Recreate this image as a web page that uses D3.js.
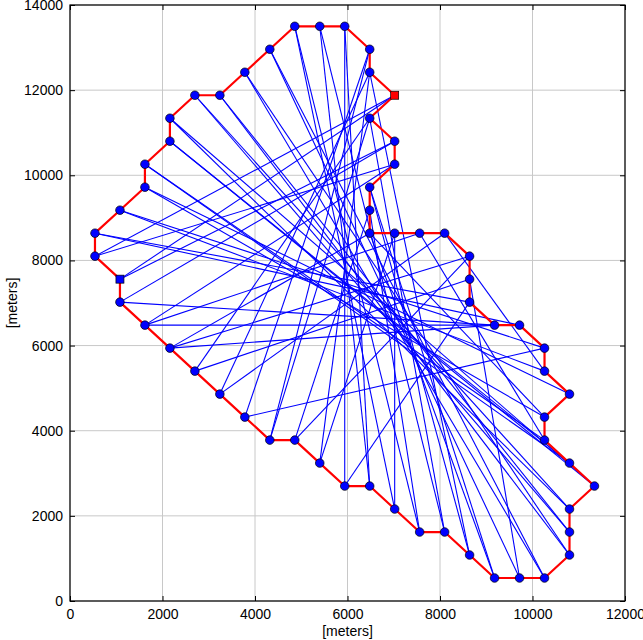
<!DOCTYPE html>
<html><head><meta charset="utf-8">
<script src="https://cdn.jsdelivr.net/npm/d3@7"></script>
<style>body{margin:0;background:#fff}svg{display:block}text{font-family:"Liberation Sans",Arial,sans-serif;fill:#000}</style>
</head><body><svg id="c" width="643" height="640"></svg>
<script>
// boundary vertices (meters)
const boundaryX = [4860,5400,5940,6480,6480,7020,6480,7020,7020,6480,6480,6480,7020,7560,8100,8640,8640,8640,9180,9720,10260,10260,10800,10260,10260,10800,11340,10800,10800,10800,10260,9720,9180,8640,8100,7560,7020,6480,5940,5400,4860,4320,3780,3240,2700,2160,1620,1080,1080,540,540,1080,1620,1620,2160,2160,2700,3240,3780,4320];
const boundaryY = [13500,13500,13500,12960,12420,11880,11340,10800,10260,9720,9180,8640,8640,8640,8640,8100,7560,7020,6480,6480,5940,5400,4860,4320,3780,3240,2700,2160,1620,1080,540,540,540,1080,1620,1620,2160,2700,2700,3240,3780,3780,4320,4860,5400,5940,6480,7020,7560,8100,8640,9180,9720,10260,10800,11340,11880,11880,12420,12960];
// blue chords between boundary vertices: vertex numbers (1-based)
const chordFrom = [1,1,2,2,3,3,60,60,59,59,58,58,57,57,56,56,55,55,54,54,53,53,52,52,51,51,50,50,49,49,48,48,47,47,47,46,46,46,45,45,44,44,43,43,42,42,41,41,40,40,7,32,33,34,10,10,11,12,13,14,15,18];
const chordTo   = [37,36,38,35,39,38,32,31,31,30,30,29,29,28,28,27,27,26,26,25,24,23,22,21,20,18,6,9,6,8,19,8,14,20,9,12,16,19,7,17,5,15,4,21,4,7,16,11,5,13,35,17,12,5,33,34,36,24,37,25,22,39];
const startVertex = 6, endVertex = 49;
const xTicks = [0,2000,4000,6000,8000,10000,12000];
const yTicks = [0,2000,4000,6000,8000,10000,12000,14000];
const xLabel = "[meters]", yLabel = "[meters]";

const L=70,R=625,T=5,B=601;
const svg=d3.select("#c");
const x=d3.scaleLinear().domain([0,12000]).range([L,R]);
const y=d3.scaleLinear().domain([0,14000]).range([B,T]);

// grid
const g=svg.append("g");
g.selectAll("line.gx").data(xTicks).join("line").attr("x1",d=>x(d)).attr("x2",d=>x(d)).attr("y1",T).attr("y2",B).attr("stroke","#c8c8c8").attr("stroke-width",1);
g.selectAll("line.gy").data(yTicks).join("line").attr("y1",d=>y(d)).attr("y2",d=>y(d)).attr("x1",L).attr("x2",R).attr("stroke","#c8c8c8").attr("stroke-width",1);

// chords
const pts=boundaryX.map((v,i)=>[v,boundaryY[i]]);
svg.append("g").selectAll("line").data(chordFrom.map((f,i)=>[f-1,chordTo[i]-1])).join("line")
 .attr("x1",d=>x(pts[d[0]][0])).attr("y1",d=>y(pts[d[0]][1]))
 .attr("x2",d=>x(pts[d[1]][0])).attr("y2",d=>y(pts[d[1]][1]))
 .attr("stroke","#0000ff").attr("stroke-width",1.1);

// boundary
svg.append("path").datum(pts.concat([pts[0]])).attr("d",d3.line().x(d=>x(d[0])).y(d=>y(d[1])))
 .attr("fill","none").attr("stroke","#ff0000").attr("stroke-width",2.2).attr("stroke-linejoin","round");

// markers
svg.append("g").selectAll("circle").data(pts.filter((p,i)=>i!==startVertex-1&&i!==endVertex-1)).join("circle")
 .attr("cx",d=>x(d[0])).attr("cy",d=>y(d[1])).attr("r",4.3).attr("fill","#0000ff").attr("stroke","#000").attr("stroke-width",0.7);
[[startVertex,"#ff0000"],[endVertex,"#0000ff"]].forEach(([v,c])=>{
 const p=pts[v-1];
 svg.append("rect").attr("x",x(p[0])-4).attr("y",y(p[1])-4).attr("width",8).attr("height",8).attr("fill",c).attr("stroke","#000").attr("stroke-width",0.7);
});

// axes frame & ticks
const ax=d3.axisBottom(x).tickValues(xTicks).tickFormat(d3.format("d")).tickSizeInner(-5).tickSizeOuter(0).tickPadding(8);
const ay=d3.axisLeft(y).tickValues(yTicks).tickFormat(d3.format("d")).tickSizeInner(-5).tickSizeOuter(0).tickPadding(7);
const gx=svg.append("g").attr("transform",`translate(0,${B})`).call(ax);
const gy=svg.append("g").attr("transform",`translate(${L},0)`).call(ay);
const gx2=svg.append("g").attr("transform",`translate(0,${T})`).call(d3.axisTop(x).tickValues(xTicks).tickFormat("").tickSizeInner(-5).tickSizeOuter(0));
const gy2=svg.append("g").attr("transform",`translate(${R},0)`).call(d3.axisRight(y).tickValues(yTicks).tickFormat("").tickSizeInner(-5).tickSizeOuter(0));
[gx,gy,gx2,gy2].forEach(a=>{a.select(".domain").remove();a.selectAll(".tick line").attr("stroke","#000");a.selectAll("text").style("font-size","14px").style("font-family","'Liberation Sans',Arial,sans-serif");});
svg.append("rect").attr("x",L).attr("y",T).attr("width",R-L).attr("height",B-T).attr("fill","none").attr("stroke","#000").attr("stroke-width",1.2);

svg.append("text").attr("x",(L+R)/2).attr("y",636).attr("text-anchor","middle").style("font-size","14px").text(xLabel);
svg.append("text").attr("transform",`translate(17,${(T+B)/2}) rotate(-90)`).attr("text-anchor","middle").style("font-size","14px").text(yLabel);
</script></body></html>
